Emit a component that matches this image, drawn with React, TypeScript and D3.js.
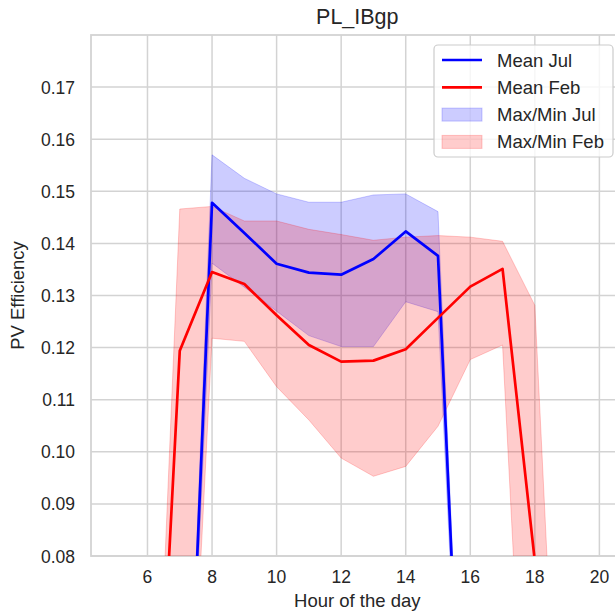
import React from "react";
import * as d3 from "d3";

// hour of the day
const hours = [5, 6, 7, 8, 9, 10, 11, 12, 13, 14, 15, 16, 17, 18, 19, 20];

// July
const meanJul = [0, 0, 0, 0.1478, 0.142, 0.1361, 0.1344, 0.134, 0.137, 0.1423, 0.1376, 0, 0, 0, 0, 0];
const maxJul = [0, 0, 0, 0.157, 0.1525, 0.1495, 0.1479, 0.1479, 0.1493, 0.1495, 0.1461, 0, 0, 0, 0, 0];
const minJul = [0, 0, 0, 0.1362, 0.1316, 0.127, 0.1223, 0.1202, 0.1202, 0.1288, 0.1269, 0, 0, 0, 0, 0];

// February
const meanFeb = [0, 0, 0.1194, 0.1345, 0.1322, 0.1262, 0.1205, 0.1173, 0.1175, 0.1197, 0.1257, 0.1317, 0.1351, 0.079, 0, 0];
const maxFeb = [0, 0, 0.1466, 0.1471, 0.1443, 0.1443, 0.1427, 0.1417, 0.1406, 0.1412, 0.1415, 0.1412, 0.1404, 0.1281, 0, 0];
const minFeb = [0, 0, 0, 0.1218, 0.1212, 0.1125, 0.1061, 0.0988, 0.0953, 0.0972, 0.1049, 0.1177, 0.1205, 0, 0, 0];

const xTicks = [6, 8, 10, 12, 14, 16, 18, 20];
const yTicks = [0.08, 0.09, 0.1, 0.11, 0.12, 0.13, 0.14, 0.15, 0.16, 0.17];

const W = 615;
const H = 614;
const margin = { left: 91, top: 35, right: 623.6, bottom: 556 };
const font = "'Liberation Sans', Arial, sans-serif";
const textColor = "#262626";
const gridColor = "#d3d3d3";

const App = () => {
  const x = d3.scaleLinear().domain([4.25, 20.75]).range([margin.left, margin.right]);
  const y = d3.scaleLinear().domain([0.08, 0.18]).range([margin.bottom, margin.top]);

  const line = (vals: number[]) =>
    d3
      .line<number>()
      .x((_, i) => x(hours[i]))
      .y((d) => y(d))(vals) || "";

  const band = (lo: number[], hi: number[]) =>
    d3
      .area<number>()
      .x((_, i) => x(hours[i]))
      .y0((_, i) => y(lo[i]))
      .y1((d) => y(d))(hi) || "";

  const plotW = margin.right - margin.left;
  const plotH = margin.bottom - margin.top;

  const legendItems = [
    { label: "Mean Jul", type: "line", color: "#0000ff" },
    { label: "Mean Feb", type: "line", color: "#ff0000" },
    { label: "Max/Min Jul", type: "patch", color: "#0000ff" },
    { label: "Max/Min Feb", type: "patch", color: "#ff0000" },
  ];

  return (
    <svg
      width={W}
      height={H}
      style={{ position: "absolute", left: 0, top: 0, background: "#fff" }}
      fontFamily={font}
    >
      <defs>
        <clipPath id="plot">
          <rect x={margin.left} y={margin.top} width={plotW} height={plotH} />
        </clipPath>
      </defs>

      {/* grid */}
      {xTicks.map((t) => (
        <line key={"gx" + t} x1={x(t)} x2={x(t)} y1={margin.top} y2={margin.bottom} stroke={gridColor} strokeWidth={1.5} />
      ))}
      {yTicks.map((t) => (
        <line key={"gy" + t} x1={margin.left} x2={margin.right} y1={y(t)} y2={y(t)} stroke={gridColor} strokeWidth={1.5} />
      ))}
      <rect x={margin.left} y={margin.top} width={plotW} height={plotH} fill="none" stroke={gridColor} strokeWidth={1.8} />

      {/* data */}
      <g clipPath="url(#plot)">
        <path d={band(minJul, maxJul)} fill="#0000ff" fillOpacity={0.2} stroke="#0000ff" strokeOpacity={0.2} strokeWidth={1} />
        <path d={band(minFeb, maxFeb)} fill="#ff0000" fillOpacity={0.2} stroke="#ff0000" strokeOpacity={0.2} strokeWidth={1} />
        <path d={line(meanJul)} fill="none" stroke="#0000ff" strokeWidth={2.7} strokeLinejoin="round" />
        <path d={line(meanFeb)} fill="none" stroke="#ff0000" strokeWidth={2.7} strokeLinejoin="round" />
      </g>

      {/* tick labels */}
      {xTicks.map((t) => (
        <text key={"tx" + t} x={x(t)} y={583} textAnchor="middle" fontSize={17.5} fill={textColor}>
          {t}
        </text>
      ))}
      {yTicks.map((t) => (
        <text key={"ty" + t} x={75} y={y(t) + 6.5} textAnchor="end" fontSize={17.5} fill={textColor}>
          {d3.format(".2f")(t)}
        </text>
      ))}

      {/* labels */}
      <text x={(margin.left + margin.right) / 2} y={607} textAnchor="middle" fontSize={18.5} fill={textColor}>
        Hour of the day
      </text>
      <text
        transform={`translate(24, ${(margin.top + margin.bottom) / 2}) rotate(-90)`}
        textAnchor="middle"
        fontSize={18.5}
        fill={textColor}
      >
        PV Efficiency
      </text>
      <text x={(margin.left + margin.right) / 2} y={24} textAnchor="middle" fontSize={21.5} fill={textColor}>
        PL_IBgp
      </text>

      {/* legend */}
      <rect x={434} y={45} width={179} height={112} rx={4} fill="#ffffff" fillOpacity={0.8} stroke="#cccccc" strokeWidth={1.2} />
      {legendItems.map((d, i) => {
        const cy = 60 + i * 27.3;
        return (
          <g key={d.label}>
            {d.type === "line" ? (
              <line x1={442} x2={482} y1={cy} y2={cy} stroke={d.color} strokeWidth={2.7} />
            ) : (
              <rect x={442} y={cy - 6.5} width={40} height={13} fill={d.color} fillOpacity={0.2} stroke={d.color} strokeOpacity={0.2} />
            )}
            <text x={497} y={cy + 6.5} fontSize={18.5} fill={textColor}>
              {d.label}
            </text>
          </g>
        );
      })}
    </svg>
  );
};

export default App;
